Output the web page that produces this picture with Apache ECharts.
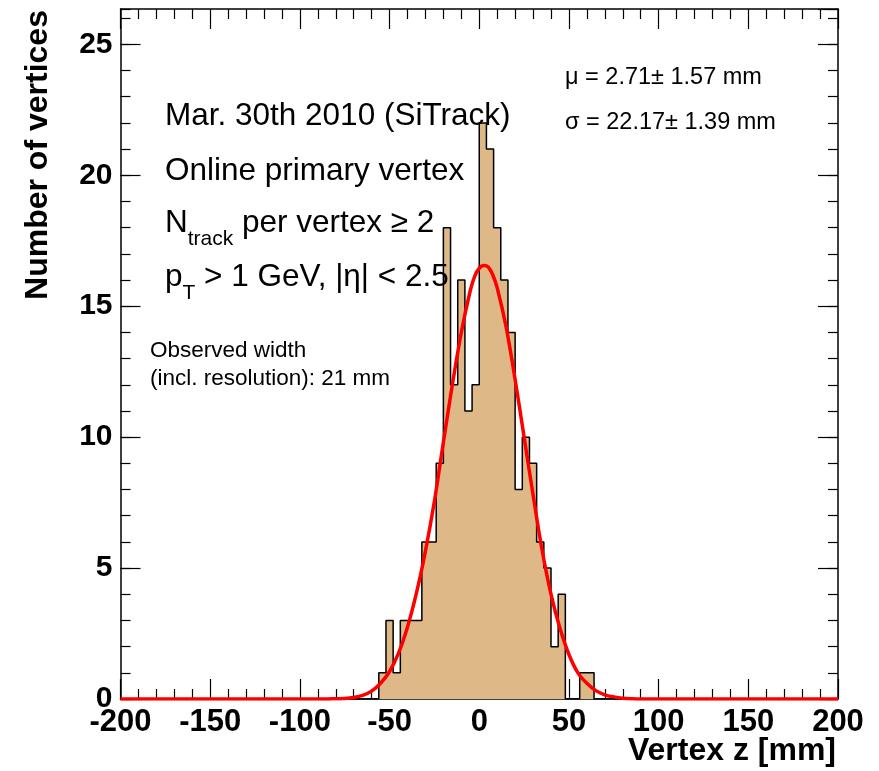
<!DOCTYPE html>
<html><head><meta charset="utf-8">
<script src="https://cdn.jsdelivr.net/npm/echarts@6/dist/echarts.min.js"></script>
<style>html,body{margin:0;padding:0;background:#fff}#c{width:879px;height:771px}</style>
</head><body><div id="c"></div>
<script>
// Histogram bins (left edges, mm) and counts
const binWidth = 4;
const binLowEdges = [-64,-60,-56,-52,-48,-44,-40,-36,-32,-28,-24,-20,-16,-12,-8,-4,0,4,8,12,16,20,24,28,32,36,40,44,48,52,56,60,64];
const binCounts   = [0,0,1,3,1,3,3,3,6,6,9,18,12,16,11,12,22,21,18,16,14,8,10,9,6,5,2,4,0,0,1,1,0];
// Gaussian fit curve
const fitX = [-200,-85,-80,-75,-70,-65,-60,-55,-50,-45,-40,-35,-30,-25,-20,-15,-10,-5,-2.5,0,2.5,5,7.5,10,15,20,25,30,35,40,45,50,55,60,65,70,75,80,85,90,200];
const fitY = [0,0,0.01,0.02,0.06,0.14,0.3,0.6,1.05,1.75,2.75,4.05,5.65,7.55,9.8,12.0,14.0,15.6,16.15,16.45,16.55,16.5,16.2,15.7,14.2,12.2,10.0,7.8,5.7,4.0,2.7,1.7,1.0,0.6,0.32,0.16,0.08,0.03,0.01,0,0];
// Axis ticks
const xTicks = {min:-200, max:200, step:50, minorSplit:5};
const yTicks = {min:0, max:26.35, step:5, minorStep:1};

const FONT = '"Liberation Sans", Arial, Helvetica, sans-serif';

const histData = [[xTicks.min, 0]];
binLowEdges.forEach((e, i) => histData.push([e, binCounts[i]]));
histData.push([binLowEdges[binLowEdges.length-1] + binWidth, 0]);
histData.push([xTicks.max, 0]);
const fitData = fitX.map((x, i) => [x, fitY[i]]);

const black = '#000';
function xAxisCfg(pos, labels) {
  return {
    type:'value', position:pos, min:xTicks.min, max:xTicks.max, interval:xTicks.step,
    axisLine:{show:true, onZero:false, lineStyle:{color:black, width:1.5}},
    axisTick:{show:true, inside:true, length:20, lineStyle:{color:black, width:1.2}},
    minorTick:{show:true, splitNumber:xTicks.minorSplit, length:10, lineStyle:{color:black, width:1.2}},
    axisLabel:{show:labels, color:black, fontFamily:FONT, fontWeight:'bold', fontSize:31, margin:8},
    splitLine:{show:false}, minorSplitLine:{show:false}
  };
}
function yAxisCfg(pos, interval, len, labels, line) {
  return {
    type:'value', position:pos, min:yTicks.min, max:yTicks.max, interval:interval,
    axisLine:{show:line, onZero:false, lineStyle:{color:black, width:1.5}},
    axisTick:{show:true, inside:true, length:len, lineStyle:{color:black, width:1.2}},
    axisLabel:{show:labels, color:black, fontFamily:FONT, fontWeight:'bold', fontSize:30, margin:8, showMaxLabel:false,
      formatter: v => (Math.abs(v % 5) < 1e-9 ? String(v) : '')},
    splitLine:{show:false}
  };
}

const chart = echarts.init(document.getElementById('c'), null, {renderer:'canvas'});
chart.setOption({
  animation:false,
  backgroundColor:'#fff',
  grid:{left:120.5, right:41, top:9, bottom:72, containLabel:false},
  xAxis:[xAxisCfg('bottom', true), xAxisCfg('top', false)],
  yAxis:[
    yAxisCfg('left', yTicks.step, 20, true, true),
    yAxisCfg('left', yTicks.minorStep, 10, false, false),
    yAxisCfg('right', yTicks.step, 20, false, true),
    yAxisCfg('right', yTicks.minorStep, 10, false, false)
  ],
  series:[
    {type:'line', xAxisIndex:0, yAxisIndex:0, data:histData, step:'end', symbol:'none',
     lineStyle:{color:black, width:1.5}, areaStyle:{color:'#deb887', opacity:1}, z:2},
    {type:'line', xAxisIndex:0, yAxisIndex:0, data:fitData, smooth:0.3, symbol:'none',
     lineStyle:{color:'#ff0000', width:3.5}, z:3}
  ],
  graphic:{elements:[
    {type:'text', z:100, left:165, top:100, style:{text:'Mar. 30th 2010 (SiTrack)', font:'31.5px '+FONT, fill:'#000'}},
    {type:'text', z:100, left:165, top:155, style:{text:'Online primary vertex', font:'31.5px '+FONT, fill:'#000'}},
    {type:'text', z:100, left:165, top:207, style:{text:'{n|N}{s|track}{n| per vertex ≥ 2}', fill:'#000',
      rich:{n:{fontSize:31.5, fontFamily:FONT, lineHeight:36, verticalAlign:'top', fill:'#000'},
            s:{fontSize:21, fontFamily:FONT, lineHeight:21, verticalAlign:'top', padding:[22,0,0,0], fill:'#000'}}}},
    {type:'text', z:100, left:165, top:261, style:{text:'{n|p}{s|T}{n| > 1 GeV, |η| < 2.5}', fill:'#000',
      rich:{n:{fontSize:31.5, fontFamily:FONT, lineHeight:36, verticalAlign:'top', fill:'#000'},
            s:{fontSize:21, fontFamily:FONT, lineHeight:21, verticalAlign:'top', padding:[22,0,0,0], fill:'#000'}}}},
    {type:'text', z:100, left:150, top:339, style:{text:'Observed width', font:'22.5px '+FONT, fill:'#000'}},
    {type:'text', z:100, left:150, top:367, style:{text:'(incl. resolution): 21 mm', font:'22.5px '+FONT, fill:'#000'}},
    {type:'text', z:100, left:565, top:66, style:{text:'μ = 2.71± 1.57 mm', font:'23.5px '+FONT, fill:'#000'}},
    {type:'text', z:100, left:565, top:111, style:{text:'σ = 22.17± 1.39 mm', font:'23.5px '+FONT, fill:'#000'}},
    {type:'text', z:100, x:836, y:751, style:{text:'Vertex z [mm]', font:'bold 32px '+FONT, fill:'#000', align:'right', verticalAlign:'middle'}},
    {type:'text', z:100, x:38, y:155, rotation:Math.PI/2, style:{text:'Number of vertices', font:'bold 32px '+FONT, fill:'#000', align:'center', verticalAlign:'middle'}}
  ]}
});
</script>
</body></html>
